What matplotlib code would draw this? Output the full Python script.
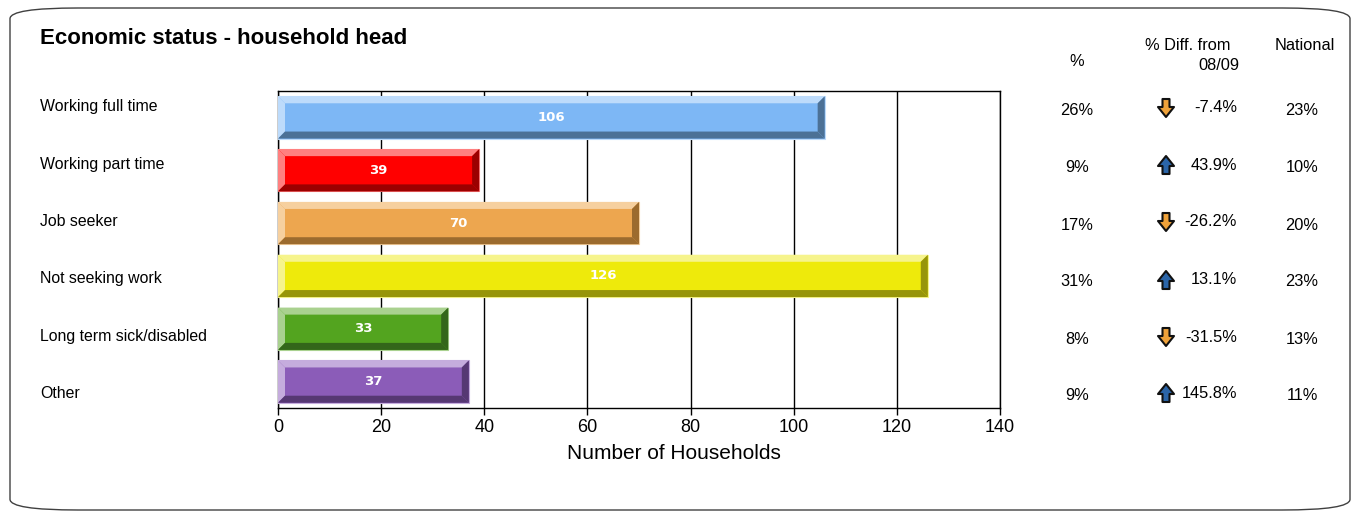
import matplotlib
matplotlib.use('Agg')
import matplotlib.pyplot as plt
from matplotlib.patches import Polygon, Rectangle, FancyBboxPatch
import numpy as np

plt.rcParams['font.family'] = 'Liberation Sans'

categories = ['Working full time', 'Working part time', 'Job seeker',
              'Not seeking work', 'Long term sick/disabled', 'Other']
households = [106, 39, 70, 126, 33, 37]
pct = ['26%', '9%', '17%', '31%', '8%', '9%']
diff = ['-7.4%', '43.9%', '-26.2%', '13.1%', '-31.5%', '145.8%']
diff_up = [False, True, False, True, False, True]
national = ['23%', '10%', '20%', '23%', '13%', '11%']

# main / light bevel / dark bevel
bar_colors = [('#7DB7F5', '#BDDBFB', '#4C7196'),
              ('#FF0000', '#FF8080', '#9B0000'),
              ('#EDA64F', '#F6D09F', '#9C6B2E'),
              ('#EEEA0B', '#F6F48C', '#97950A'),
              ('#53A41F', '#A9D18F', '#33661A'),
              ('#8B5CB8', '#C5ACDD', '#563873')]

W, H = 1356, 513
fig = plt.figure(figsize=(W / 100, H / 100), dpi=100)


def fx(px):
    return px / W


def fy(py):
    return 1 - py / H


# rounded outer frame
frame = FancyBboxPatch((fx(10), fy(510)), fx(1340), 502 / H,
                       boxstyle='round,pad=0,rounding_size=0.05',
                       transform=fig.transFigure, fill=False,
                       edgecolor='#404040', linewidth=1.0, mutation_aspect=H / W * 1.1)
fig.patches.append(frame)

ax = fig.add_axes([fx(278), fy(408), 722 / W, 317 / H])
n = len(categories)
ax.set_xlim(0, 140)
ax.set_ylim(n - 0.5, -0.5)
ax.set_xticks(np.arange(0, 141, 20))
ax.set_yticks([])
ax.tick_params(axis='x', labelsize=13, length=5, width=1, color='black', pad=3)
ax.xaxis.grid(True, color='black', linewidth=1)
ax.set_axisbelow(True)
for s in ax.spines.values():
    s.set_linewidth(1)
ax.set_xlabel('Number of Households', fontsize=15, labelpad=7)
ax.xaxis.set_label_coords(0.548, -0.115)

dx = 7 / (722 / 140)
dy = 7 / (317 / n)
h = 0.4
for i, (v, (cm, cl, cd)) in enumerate(zip(households, bar_colors)):
    top, bot = i - h, i + h
    ax.add_patch(Rectangle((0, top), v, 2 * h, facecolor=cm, edgecolor=cl,
                           linewidth=0.8, zorder=3))
    ax.add_patch(Polygon([(0, top), (v, top), (v - dx, top + dy), (dx, top + dy)],
                         facecolor=cl, edgecolor='none', zorder=4))
    ax.add_patch(Polygon([(0, top), (dx, top + dy), (dx, bot - dy), (0, bot)],
                         facecolor=cl, edgecolor='none', zorder=4))
    ax.add_patch(Polygon([(0, bot), (dx, bot - dy), (v - dx, bot - dy), (v, bot)],
                         facecolor=cd, edgecolor='none', zorder=4))
    ax.add_patch(Polygon([(v, top), (v, bot), (v - dx, bot - dy), (v - dx, top + dy)],
                         facecolor=cd, edgecolor='none', zorder=4))
    ax.text(v / 2, i, str(v), ha='center', va='center', color='white',
            fontsize=9.5, fontweight='bold', family='DejaVu Sans', zorder=5)

# title and row labels
fig.text(fx(40), fy(39), 'Economic status - household head', fontsize=16,
         fontweight='bold', va='center', ha='left')
label_y = [107, 165, 222, 279, 336, 394]
for lab, y in zip(categories, label_y):
    fig.text(fx(40), fy(y), lab, fontsize=11.4, va='center', ha='left')

# right-hand columns
fs = 11.8
fig.text(fx(1077), fy(62), '%', fontsize=fs, ha='center', va='center')
fig.text(fx(1188), fy(46), '% Diff. from', fontsize=fs, ha='center', va='center')
fig.text(fx(1239), fy(66), '08/09', fontsize=fs, ha='right', va='center')
fig.text(fx(1305), fy(46), 'National', fontsize=fs, ha='center', va='center')

pct_y = [111, 168, 225, 282, 339, 396]
diff_y = [108, 165, 222, 280, 337, 393]


def arrow(cx, cy, up, color):
    # arrow shape in pixels, pointing down
    pts = np.array([(-3.5, -9), (3.5, -9), (3.5, -1), (8, -1), (0, 9), (-8, -1), (-3.5, -1)], float)
    if up:
        pts[:, 1] *= -1
    verts = [(fx(cx + x), fy(cy + y)) for x, y in pts]
    fig.patches.append(Polygon(verts, closed=True, transform=fig.transFigure,
                               facecolor=color, edgecolor='#111111', linewidth=1.5,
                               joinstyle='round'))


for i in range(n):
    fig.text(fx(1077), fy(pct_y[i]), pct[i], fontsize=fs, ha='center', va='center')
    fig.text(fx(1237), fy(diff_y[i]), diff[i], fontsize=fs, ha='right', va='center')
    fig.text(fx(1302), fy(pct_y[i]), national[i], fontsize=fs, ha='center', va='center')
    if diff_up[i]:
        arrow(1166, diff_y[i], True, '#2B65A8')
    else:
        arrow(1166, diff_y[i], False, '#EFA23A')

fig.savefig('out.png', dpi=100)
